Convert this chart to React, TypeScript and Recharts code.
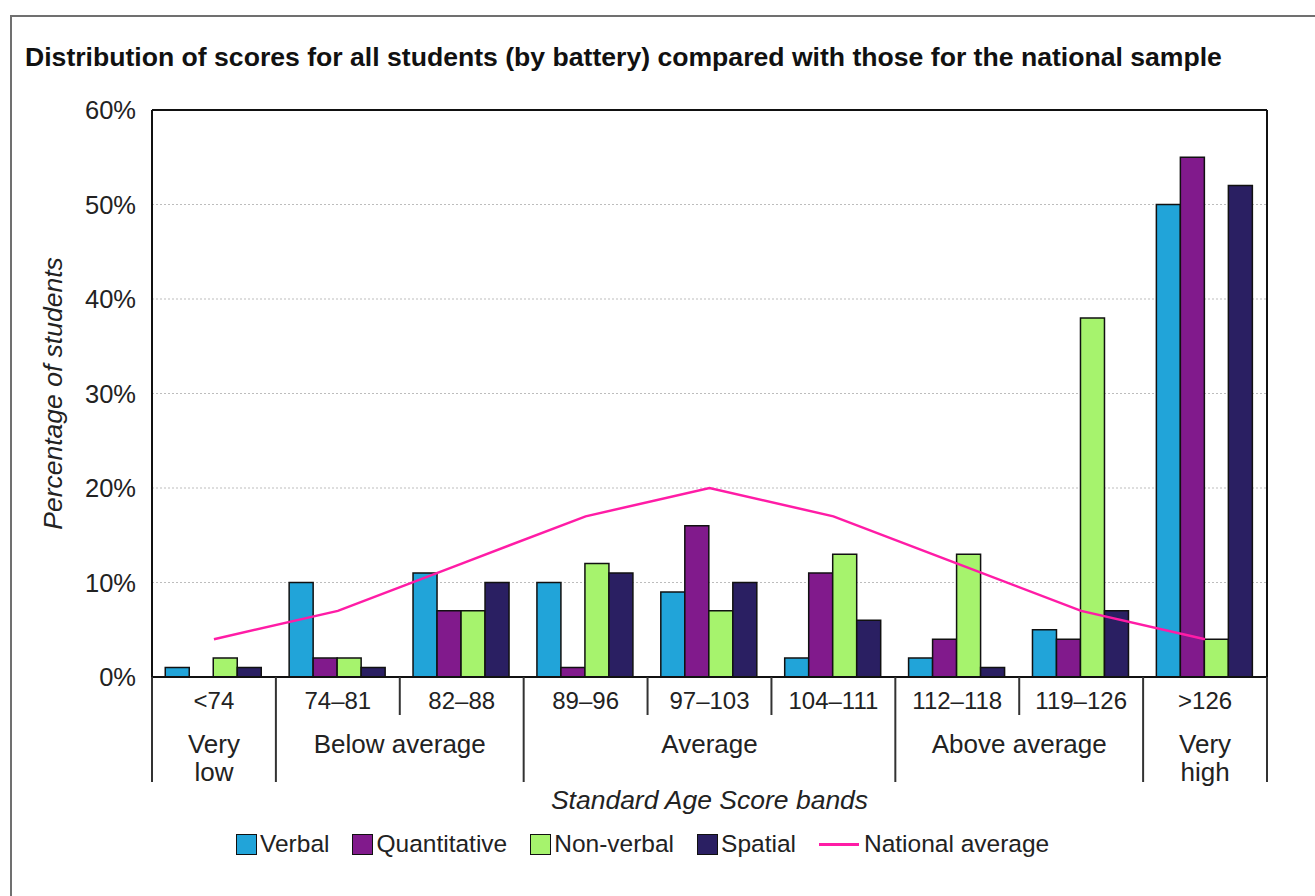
import React from 'react';
import { ComposedChart, Bar, Line, XAxis, YAxis, CartesianGrid, Legend, ReferenceLine } from 'recharts';

const FONT = '"Liberation Sans", Arial, Helvetica, sans-serif';

// Standard Age Score bands and the descriptive group each band belongs to
const bands = ['<74', '74–81', '82–88', '89–96', '97–103', '104–111', '112–118', '119–126', '>126'];
const bandGroups = [
  'Very\nlow',
  'Below average',
  'Below average',
  'Average',
  'Average',
  'Average',
  'Above average',
  'Above average',
  'Very\nhigh'
];

// Percentage of students per band
const verbal = [1, 10, 11, 10, 9, 2, 2, 5, 50];
const quantitative = [0, 2, 7, 1, 16, 11, 4, 4, 55];
const nonVerbal = [2, 2, 7, 12, 7, 13, 13, 38, 4];
const spatial = [1, 1, 10, 11, 10, 6, 1, 7, 52];
const nationalAverage = [4, 7, 12, 17, 20, 17, 12, 7, 4];

const yTicks = [0, 10, 20, 30, 40, 50, 60];
const legendOrder = ['Verbal', 'Quantitative', 'Non-verbal', 'Spatial', 'National average'];

const COLORS = {
  verbal: '#21a4d9',
  quantitative: '#811a8c',
  nonVerbal: '#a6f36d',
  spatial: '#2a1f62',
  national: '#ff1ca6'
};

const data = bands.map((band, i) => ({
  band,
  verbal: verbal[i],
  quantitative: quantitative[i],
  nonVerbal: nonVerbal[i],
  spatial: spatial[i],
  national: nationalAverage[i]
}));

// Draws the band label, the separators and (once per group) the group label
const BandTick = (props: any) => {
  const { x, y, payload } = props;
  const i = props.index ?? payload.index;
  const half = payload.offset || 62;
  const group = bandGroups[i];
  const isStart = i === 0 || bandGroups[i - 1] !== group;
  const isLast = i === bands.length - 1;
  let size = 0;
  while (i + size < bands.length && bandGroups[i + size] === group) size++;
  const groupCenter = x - half + size * half;
  const lines = group.split('\n');

  return (
    <g>
      <line x1={x - half} x2={x - half} y1={y} y2={y + (isStart ? 105 : 38)} stroke="#333" strokeWidth={2} />
      {isLast && <line x1={x + half} x2={x + half} y1={y} y2={y + 105} stroke="#333" strokeWidth={2} />}
      <text x={x} y={y + 32} textAnchor="middle" fill="#222" fontSize={24} fontFamily={FONT}>
        {payload.value}
      </text>
      {isStart &&
        lines.map((ln, k) => (
          <text key={ln} x={groupCenter} y={y + 76 + k * 28} textAnchor="middle" fill="#222" fontSize={26} fontFamily={FONT}>
            {ln}
          </text>
        ))}
    </g>
  );
};

const LegendContent = (props: any) => {
  const payload = [...(props.payload || [])].sort(
    (a: any, b: any) => legendOrder.indexOf(a.value) - legendOrder.indexOf(b.value)
  );
  return (
    <div style={{ display: 'flex', alignItems: 'center', paddingLeft: 236, fontFamily: FONT, fontSize: 24.5, color: '#222' }}>
      {payload.map((entry: any) => (
        <div key={entry.value} style={{ display: 'flex', alignItems: 'center', marginRight: 23 }}>
          {entry.type === 'line' ? (
            <span style={{ width: 40, height: 3, background: entry.color, marginRight: 5 }} />
          ) : (
            <span style={{ width: 19, height: 19, background: entry.color, border: '1.5px solid #111', marginRight: 3 }} />
          )}
          <span>{entry.value}</span>
        </div>
      ))}
    </div>
  );
};

export default function App() {
  return (
    <div style={{ position: 'fixed', left: 0, top: 0, width: 1315, height: 896, overflow: 'hidden', background: '#fff' }}>
      <div
        style={{
          position: 'absolute',
          left: 10,
          top: 15,
          width: 1400,
          height: 1000,
          borderTop: '2px solid #707070',
          borderLeft: '2px solid #707070'
        }}
      />
      <div
        style={{
          position: 'absolute',
          left: 25,
          top: 42,
          fontFamily: FONT,
          fontWeight: 'bold',
          fontSize: 26.6,
          lineHeight: '30px',
          color: '#111',
          whiteSpace: 'nowrap'
        }}
      >
        Distribution of scores for all students (by battery) compared with those for the national sample
      </div>
      <div style={{ position: 'absolute', left: 0, top: 0 }}>
        <ComposedChart width={1315} height={896} data={data} margin={{ top: 110, right: 48, bottom: 89, left: 42 }} barCategoryGap="10.7%" barGap={0}>
          <CartesianGrid vertical={false} strokeDasharray="2 2" stroke="#bdbdbd" />
          <XAxis
            dataKey="band"
            height={130}
            interval={0}
            tickSize={0}
            tickMargin={0}
            tickLine={false}
            axisLine={{ stroke: '#111', strokeWidth: 2 }}
            tick={<BandTick />}
            label={{
              content: (p: any) => (
                <text
                  x={p.viewBox.x + p.viewBox.width / 2}
                  y={p.viewBox.y + 132}
                  textAnchor="middle"
                  fill="#222"
                  fontSize={26.5}
                  fontStyle="italic"
                  fontFamily={FONT}
                >
                  Standard Age Score bands
                </text>
              )
            }}
          />
          <YAxis
            width={110}
            domain={[0, 60]}
            ticks={yTicks}
            interval={0}
            tickFormatter={(v: number) => `${v}%`}
            tickLine={false}
            tickSize={0}
            tickMargin={16}
            axisLine={{ stroke: '#111', strokeWidth: 2 }}
            tick={{ fill: '#222', fontSize: 25.5, fontFamily: FONT }}
            label={{
              content: (p: any) => {
                const cx = p.viewBox.x + 20;
                const cy = p.viewBox.y + p.viewBox.height / 2;
                return (
                  <text
                    x={cx}
                    y={cy}
                    transform={`rotate(-90 ${cx} ${cy})`}
                    textAnchor="middle"
                    fill="#222"
                    fontSize={26.5}
                    fontStyle="italic"
                    fontFamily={FONT}
                  >
                    Percentage of students
                  </text>
                );
              }
            }}
          />
          <ReferenceLine y={60} stroke="#111" strokeWidth={2} />
          <ReferenceLine x={bands[bands.length - 1]} position="end" stroke="#111" strokeWidth={2} />
          <Legend
            verticalAlign="middle"
            align="center"
            layout="horizontal"
            wrapperStyle={{ left: 0, top: 830, width: 1315 }}
            content={<LegendContent />}
          />
          <Bar dataKey="verbal" name="Verbal" fill={COLORS.verbal} stroke="#111" strokeWidth={1.5} isAnimationActive={false} />
          <Bar dataKey="quantitative" name="Quantitative" fill={COLORS.quantitative} stroke="#111" strokeWidth={1.5} isAnimationActive={false} />
          <Bar dataKey="nonVerbal" name="Non-verbal" fill={COLORS.nonVerbal} stroke="#111" strokeWidth={1.5} isAnimationActive={false} />
          <Bar dataKey="spatial" name="Spatial" fill={COLORS.spatial} stroke="#111" strokeWidth={1.5} isAnimationActive={false} />
          <Line
            type="linear"
            dataKey="national"
            name="National average"
            stroke={COLORS.national}
            strokeWidth={2.5}
            dot={false}
            activeDot={false}
            isAnimationActive={false}
          />
        </ComposedChart>
      </div>
    </div>
  );
}
